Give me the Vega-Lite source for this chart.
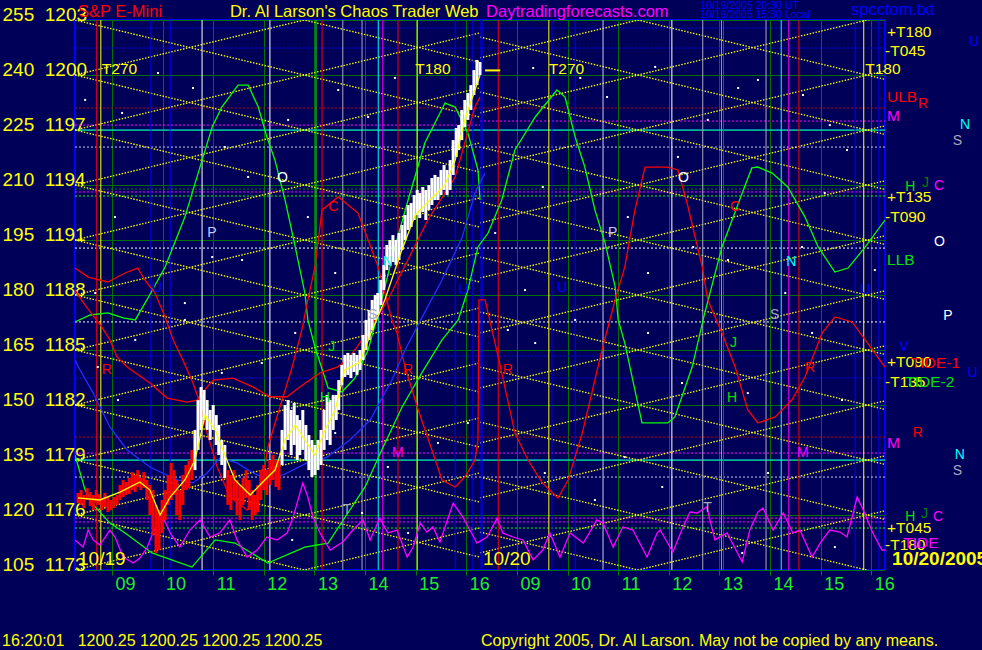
{
"$schema": "https://vega.github.io/schema/vega-lite/v6.json",
"width": 810, "height": 550,
"autosize": {"type": "none"},
"padding": {"left": 75, "top": 20, "right": 97, "bottom": 80},
"background": "#000058",
"config": {"view": {"stroke": "#0000ff", "strokeWidth": 2}, "font": "Liberation Sans"},
"datasets": {
"hl": [
{"p":1202.56,"h1":8.27,"h2":24.27,"k":"blue","d":"dot"},
{"p":1201.47,"h1":8.27,"h2":24.27,"k":"blue","d":"dot"},
{"p":1198.20,"h1":8.27,"h2":24.27,"k":"dkred","d":"dot"},
{"p":1197.27,"h1":8.27,"h2":16.27,"k":"magenta","d":"dot"},
{"p":1197.49,"h1":16.27,"h2":24.27,"k":"magenta","d":"dot"},
{"p":1196.07,"h1":8.27,"h2":24.27,"k":"lav","d":"dot"},
{"p":1193.78,"h1":8.27,"h2":24.27,"k":"dkgreen","d":"dot"},
{"p":1193.62,"h1":8.27,"h2":24.27,"k":"magenta","d":"dot"},
{"p":1193.40,"h1":8.27,"h2":24.27,"k":"bgreen","d":"dot"},
{"p":1190.56,"h1":8.27,"h2":24.27,"k":"white","d":"dot"},
{"p":1186.53,"h1":8.27,"h2":24.27,"k":"white","d":"dot"},
{"p":1184.67,"h1":8.27,"h2":24.27,"k":"blue","d":"dot"},
{"p":1183.47,"h1":8.27,"h2":24.27,"k":"blue","d":"dot"},
{"p":1180.25,"h1":8.27,"h2":24.27,"k":"dkred","d":"dot"},
{"p":1179.38,"h1":8.27,"h2":24.27,"k":"magenta","d":"dot"},
{"p":1178.07,"h1":8.27,"h2":24.27,"k":"lav","d":"dot"},
{"p":1175.83,"h1":8.27,"h2":24.27,"k":"magenta","d":"dot"},
{"p":1175.62,"h1":8.27,"h2":24.27,"k":"magenta","d":"dot"},
{"p":1175.29,"h1":8.27,"h2":24.27,"k":"bgreen","d":"dot"},
{"p":1197,"h1":8.27,"h2":24.27,"k":"cyan","d":"solid"},
{"p":1179,"h1":8.27,"h2":24.27,"k":"cyan","d":"solid"}
],
"vl": [
{"h":8.70,"k":"red"},{"h":8.78,"k":"yellow"},{"h":9.77,"k":"blue"},{"h":10.15,"k":"blue"},
{"h":10.78,"k":"white"},{"h":12.12,"k":"white"},{"h":13.03,"k":"bgreen"},{"h":13.15,"k":"red"},
{"h":13.56,"k":"gray"},{"h":13.94,"k":"gray"},{"h":14.26,"k":"cyan"},{"h":14.35,"k":"magenta"},
{"h":14.65,"k":"red"},{"h":15.03,"k":"yellow"},{"h":15.78,"k":"blue"},{"h":16.13,"k":"blue"},
{"h":16.29,"k":"blue"},{"h":16.31,"k":"blue"},
{"h":16.63,"k":"red"},{"h":17.63,"k":"yellow"},{"h":17.69,"k":"blue"},{"h":18.15,"k":"blue"},
{"h":18.70,"k":"lav"},{"h":20.06,"k":"white"},{"h":20.67,"k":"gray"},{"h":21.04,"k":"bgreen"},
{"h":21.08,"k":"red"},{"h":21.92,"k":"gray"},{"h":22.22,"k":"cyan"},{"h":22.37,"k":"magenta"},
{"h":22.57,"k":"red"},{"h":23.68,"k":"blue"},{"h":23.85,"k":"yellow"},{"h":24.15,"k":"blue"}
],
"lat": [
{"id":"a0","h":8.27,"p":1206},{"id":"a0","h":16.27,"p":1200.70},
{"id":"a1","h":8.27,"p":1203},{"id":"a1","h":16.27,"p":1197.70},
{"id":"a2","h":8.27,"p":1200},{"id":"a2","h":16.27,"p":1194.70},
{"id":"a3","h":8.27,"p":1197},{"id":"a3","h":16.27,"p":1191.70},
{"id":"a4","h":8.27,"p":1194},{"id":"a4","h":16.27,"p":1188.70},
{"id":"a5","h":8.27,"p":1191},{"id":"a5","h":16.27,"p":1185.70},
{"id":"a6","h":8.27,"p":1188},{"id":"a6","h":16.27,"p":1182.70},
{"id":"a7","h":8.27,"p":1185},{"id":"a7","h":16.27,"p":1179.70},
{"id":"a8","h":8.27,"p":1182},{"id":"a8","h":16.27,"p":1176.70},
{"id":"a9","h":8.27,"p":1179},{"id":"a9","h":16.27,"p":1173.70},
{"id":"a10","h":8.27,"p":1176},{"id":"a10","h":16.27,"p":1170.70},
{"id":"b1","h":8.27,"p":1200},{"id":"b1","h":16.27,"p":1205.30},
{"id":"b2","h":8.27,"p":1197},{"id":"b2","h":16.27,"p":1202.30},
{"id":"b3","h":8.27,"p":1194},{"id":"b3","h":16.27,"p":1199.30},
{"id":"b4","h":8.27,"p":1191},{"id":"b4","h":16.27,"p":1196.30},
{"id":"b5","h":8.27,"p":1188},{"id":"b5","h":16.27,"p":1193.30},
{"id":"b6","h":8.27,"p":1185},{"id":"b6","h":16.27,"p":1190.30},
{"id":"b7","h":8.27,"p":1182},{"id":"b7","h":16.27,"p":1187.30},
{"id":"b8","h":8.27,"p":1179},{"id":"b8","h":16.27,"p":1184.30},
{"id":"b9","h":8.27,"p":1176},{"id":"b9","h":16.27,"p":1181.30},
{"id":"b10","h":8.27,"p":1173},{"id":"b10","h":16.27,"p":1178.30},
{"id":"b11","h":8.27,"p":1170},{"id":"b11","h":16.27,"p":1175.30},
{"id":"c0","h":16.27,"p":1205.07},{"id":"c0","h":24.27,"p":1199.76},
{"id":"c1","h":16.27,"p":1202.07},{"id":"c1","h":24.27,"p":1196.76},
{"id":"c2","h":16.27,"p":1199.07},{"id":"c2","h":24.27,"p":1193.76},
{"id":"c3","h":16.27,"p":1196.07},{"id":"c3","h":24.27,"p":1190.76},
{"id":"c4","h":16.27,"p":1193.07},{"id":"c4","h":24.27,"p":1187.76},
{"id":"c5","h":16.27,"p":1190.07},{"id":"c5","h":24.27,"p":1184.76},
{"id":"c6","h":16.27,"p":1187.07},{"id":"c6","h":24.27,"p":1181.76},
{"id":"c7","h":16.27,"p":1184.07},{"id":"c7","h":24.27,"p":1178.76},
{"id":"c8","h":16.27,"p":1181.07},{"id":"c8","h":24.27,"p":1175.76},
{"id":"c9","h":16.27,"p":1178.07},{"id":"c9","h":24.27,"p":1172.76},
{"id":"c10","h":16.27,"p":1175.07},{"id":"c10","h":24.27,"p":1169.76},
{"id":"d0","h":16.27,"p":1200.93},{"id":"d0","h":24.27,"p":1206.23},
{"id":"d1","h":16.27,"p":1197.93},{"id":"d1","h":24.27,"p":1203.23},
{"id":"d2","h":16.27,"p":1194.93},{"id":"d2","h":24.27,"p":1200.23},
{"id":"d3","h":16.27,"p":1191.93},{"id":"d3","h":24.27,"p":1197.23},
{"id":"d4","h":16.27,"p":1188.93},{"id":"d4","h":24.27,"p":1194.23},
{"id":"d5","h":16.27,"p":1185.93},{"id":"d5","h":24.27,"p":1191.23},
{"id":"d6","h":16.27,"p":1182.93},{"id":"d6","h":24.27,"p":1188.23},
{"id":"d7","h":16.27,"p":1179.93},{"id":"d7","h":24.27,"p":1185.23},
{"id":"d8","h":16.27,"p":1176.93},{"id":"d8","h":24.27,"p":1182.23},
{"id":"d9","h":16.27,"p":1173.93},{"id":"d9","h":24.27,"p":1179.23},
{"id":"d10","h":16.27,"p":1170.93},{"id":"d10","h":24.27,"p":1176.23}
],
"dots": [
{"h":17.32,"p":1200.38},{"h":18.25,"p":1199.84},{"h":18.78,"p":1198.80},{"h":19.73,"p":1200.44},{"h":20.18,"p":1195.53},
{"h":20.77,"p":1197.55},{"h":21.37,"p":1199.29},{"h":21.76,"p":1199.73},{"h":22.65,"p":1198.91},{"h":23.18,"p":1197.27},
{"h":23.52,"p":1195.91},{"h":22.63,"p":1190.62},{"h":20.48,"p":1190.62},{"h":19.59,"p":1189.20},{"h":22.30,"p":1188.11},
{"h":17.16,"p":1188.27},{"h":16.57,"p":1191.38},{"h":17.51,"p":1193.89},{"h":19.19,"p":1192.25},{"h":21.17,"p":1189.91},
{"h":23.08,"p":1193.56},{"h":24.07,"p":1189.36},{"h":8.47,"p":1198.64},{"h":9.20,"p":1197.93},{"h":9.91,"p":1200.11},
{"h":10.60,"p":1199.29},{"h":11.23,"p":1196.07},{"h":11.69,"p":1194.44},{"h":12.48,"p":1197.55},{"h":12.87,"p":1192.25},
{"h":13.47,"p":1199.18},{"h":14.06,"p":1197.71},{"h":14.59,"p":1199.84},{"h":10.98,"p":1190.07},{"h":9.06,"p":1192.25},
{"h":8.67,"p":1188.11},{"h":10.44,"p":1187.56},{"h":13.41,"p":1189.20},{"h":11.57,"p":1189.91},{"h":8.72,"p":1184.07},
{"h":9.46,"p":1185.55},{"h":10.44,"p":1186.64},{"h":11.17,"p":1183.75},{"h":11.96,"p":1184.29},{"h":12.62,"p":1185.93},
{"h":13.41,"p":1180.47},{"h":13.94,"p":1176.11},{"h":14.45,"p":1178.62},{"h":15.44,"p":1179.93},{"h":16.03,"p":1181.02},
{"h":14.85,"p":1175.02},{"h":12.56,"p":1174.64},{"h":9.12,"p":1182.27},{"h":16.82,"p":1186.09},{"h":17.36,"p":1185.38},
{"h":18.15,"p":1186.64},{"h":19.59,"p":1185.93},{"h":20.26,"p":1183.20},{"h":21.56,"p":1182.65},{"h":22.83,"p":1185.93},
{"h":23.42,"p":1182.27},{"h":21.96,"p":1178.29},{"h":19.87,"p":1177.53},{"h":18.54,"p":1176.82},{"h":17.55,"p":1178.29},
{"h":23.28,"p":1174.25},{"h":21.45,"p":1173.93},{"h":19.13,"p":1179.16}
],
"cv": [
{"s":"g1","h":8.27,"p":1186.53},{"s":"g1","h":8.57,"p":1186.91},{"s":"g1","h":8.92,"p":1187.02},{"s":"g1","h":9.22,"p":1186.75},{"s":"g1","h":9.46,"p":1186.64},{"s":"g1","h":9.69,"p":1187.73},{"s":"g1","h":10.05,"p":1189.53},{"s":"g1","h":10.44,"p":1192.25},{"s":"g1","h":10.78,"p":1195.36},{"s":"g1","h":10.98,"p":1197.16},{"s":"g1","h":11.17,"p":1198.25},{"s":"g1","h":11.49,"p":1199.45},{"s":"g1","h":11.69,"p":1199.45},{"s":"g1","h":11.89,"p":1198.25},{"s":"g1","h":12.06,"p":1196.62},{"s":"g1","h":12.22,"p":1195.36},{"s":"g1","h":12.42,"p":1193.18},{"s":"g1","h":12.62,"p":1190.62},{"s":"g1","h":12.81,"p":1188.11},{"s":"g1","h":12.87,"p":1186.64},{"s":"g1","h":13.01,"p":1185.16},{"s":"g1","h":13.27,"p":1182.93},{"s":"g1","h":13.54,"p":1182.71},{"s":"g1","h":13.80,"p":1183.47},{"s":"g1","h":14.06,"p":1185.00},{"s":"g1","h":14.26,"p":1187.02},{"s":"g1","h":14.59,"p":1190.62},{"s":"g1","h":14.85,"p":1193.18},{"s":"g1","h":15.18,"p":1196.29},{"s":"g1","h":15.58,"p":1198.47},{"s":"g1","h":15.78,"p":1198.25},{"s":"g1","h":16.03,"p":1196.84},{"s":"g1","h":16.23,"p":1194.82},{"s":"g1","h":16.27,"p":1193.18},
{"s":"g2","h":8.27,"p":1179.27},{"s":"g2","h":8.47,"p":1177.36},{"s":"g2","h":8.67,"p":1176.44},{"s":"g2","h":8.96,"p":1175.56},{"s":"g2","h":9.26,"p":1175.02},{"s":"g2","h":9.79,"p":1173.93},{"s":"g2","h":10.58,"p":1173.16},{"s":"g2","h":11.04,"p":1174.64},{"s":"g2","h":11.43,"p":1174.47},{"s":"g2","h":12.08,"p":1173.38},{"s":"g2","h":12.81,"p":1174.25},{"s":"g2","h":13.27,"p":1174.47},{"s":"g2","h":13.66,"p":1176.11},{"s":"g2","h":14.00,"p":1177.53},{"s":"g2","h":14.33,"p":1179.55},{"s":"g2","h":14.73,"p":1181.89},{"s":"g2","h":15.12,"p":1183.75},{"s":"g2","h":15.52,"p":1185.55},{"s":"g2","h":15.84,"p":1186.64},{"s":"g2","h":16.03,"p":1188.27},{"s":"g2","h":16.23,"p":1190.62},{"s":"g2","h":16.43,"p":1191.38},{"s":"g2","h":16.70,"p":1193.18},{"s":"g2","h":16.96,"p":1195.91},{"s":"g2","h":17.36,"p":1197.71},{"s":"g2","h":17.79,"p":1199.18},{"s":"g2","h":17.95,"p":1198.80},{"s":"g2","h":18.15,"p":1196.62},{"s":"g2","h":18.34,"p":1194.98},{"s":"g2","h":18.54,"p":1192.64},{"s":"g2","h":18.74,"p":1190.84},{"s":"g2","h":18.94,"p":1188.44},{"s":"g2","h":19.00,"p":1186.64},{"s":"g2","h":19.13,"p":1185.38},{"s":"g2","h":19.47,"p":1181.02},{"s":"g2","h":19.98,"p":1181.02},{"s":"g2","h":20.12,"p":1181.35},{"s":"g2","h":20.46,"p":1184.07},{"s":"g2","h":20.71,"p":1187.02},{"s":"g2","h":21.05,"p":1190.62},{"s":"g2","h":21.45,"p":1193.56},{"s":"g2","h":21.64,"p":1194.93},{"s":"g2","h":21.76,"p":1194.98},{"s":"g2","h":22.04,"p":1194.65},{"s":"g2","h":22.35,"p":1193.89},{"s":"g2","h":22.69,"p":1192.25},{"s":"g2","h":22.95,"p":1190.62},{"s":"g2","h":23.28,"p":1189.25},{"s":"g2","h":23.54,"p":1189.47},{"s":"g2","h":23.88,"p":1190.62},{"s":"g2","h":24.27,"p":1192.09},
{"s":"r1","h":8.27,"p":1189.47},{"s":"r1","h":8.53,"p":1188.98},{"s":"r1","h":8.92,"p":1188.71},{"s":"r1","h":9.26,"p":1189.20},{"s":"r1","h":9.51,"p":1189.47},{"s":"r1","h":9.65,"p":1188.82},{"s":"r1","h":9.85,"p":1188.11},{"s":"r1","h":10.05,"p":1186.80},{"s":"r1","h":10.21,"p":1185.55},{"s":"r1","h":10.40,"p":1184.45},{"s":"r1","h":10.60,"p":1183.20},{"s":"r1","h":10.74,"p":1182.11},{"s":"r1","h":10.88,"p":1180.47},{"s":"r1","h":11.08,"p":1178.62},{"s":"r1","h":11.33,"p":1176.98},{"s":"r1","h":11.67,"p":1176.27},{"s":"r1","h":11.96,"p":1177.53},{"s":"r1","h":12.08,"p":1179.71},{"s":"r1","h":12.36,"p":1182.27},{"s":"r1","h":12.56,"p":1184.07},{"s":"r1","h":12.75,"p":1186.09},{"s":"r1","h":12.87,"p":1187.73},{"s":"r1","h":13.01,"p":1189.53},{"s":"r1","h":13.15,"p":1192.64},{"s":"r1","h":13.47,"p":1193.35},{"s":"r1","h":13.86,"p":1192.47},{"s":"r1","h":14.06,"p":1191.00},{"s":"r1","h":14.26,"p":1189.53},{"s":"r1","h":14.39,"p":1188.11},{"s":"r1","h":14.53,"p":1186.64},{"s":"r1","h":14.63,"p":1185.93},{"s":"r1","h":14.79,"p":1184.07},{"s":"r1","h":15.05,"p":1181.73},{"s":"r1","h":15.32,"p":1179.55},{"s":"r1","h":15.52,"p":1177.91},{"s":"r1","h":15.78,"p":1177.53},{"s":"r1","h":15.97,"p":1178.07},{"s":"r1","h":16.17,"p":1179.00},{"s":"r1","h":16.23,"p":1180.09},{"s":"r1","h":16.25,"p":1187.73},{"s":"r1","h":16.37,"p":1187.73},{"s":"r1","h":16.63,"p":1184.62},{"s":"r1","h":16.96,"p":1180.47},{"s":"r1","h":17.22,"p":1179.00},{"s":"r1","h":17.50,"p":1177.75},{"s":"r1","h":17.81,"p":1176.93},{"s":"r1","h":18.01,"p":1177.91},{"s":"r1","h":18.29,"p":1180.47},{"s":"r1","h":18.68,"p":1185.00},{"s":"r1","h":18.94,"p":1187.73},{"s":"r1","h":19.13,"p":1189.53},{"s":"r1","h":19.33,"p":1192.64},{"s":"r1","h":19.53,"p":1194.98},{"s":"r1","h":19.98,"p":1194.98},{"s":"r1","h":20.18,"p":1194.82},{"s":"r1","h":20.38,"p":1192.80},{"s":"r1","h":20.66,"p":1189.53},{"s":"r1","h":20.77,"p":1187.73},{"s":"r1","h":21.05,"p":1185.93},{"s":"r1","h":21.31,"p":1184.07},{"s":"r1","h":21.56,"p":1181.73},{"s":"r1","h":21.76,"p":1181.02},{"s":"r1","h":22.10,"p":1181.35},{"s":"r1","h":22.43,"p":1182.27},{"s":"r1","h":22.69,"p":1183.53},{"s":"r1","h":23.03,"p":1185.93},{"s":"r1","h":23.28,"p":1186.80},{"s":"r1","h":23.62,"p":1186.53},{"s":"r1","h":23.88,"p":1185.55},{"s":"r1","h":24.27,"p":1184.07},
{"s":"r2","h":8.27,"p":1188.27},{"s":"r2","h":8.47,"p":1187.45},{"s":"r2","h":8.80,"p":1186.25},{"s":"r2","h":8.96,"p":1185.55},{"s":"r2","h":9.10,"p":1184.62},{"s":"r2","h":9.30,"p":1184.07},{"s":"r2","h":9.75,"p":1183.20},{"s":"r2","h":10.09,"p":1182.38},{"s":"r2","h":10.48,"p":1182.16},{"s":"r2","h":10.68,"p":1182.27},{"s":"r2","h":10.88,"p":1182.98},{"s":"r2","h":11.00,"p":1183.36},{"s":"r2","h":11.39,"p":1183.47},{"s":"r2","h":11.79,"p":1182.98},{"s":"r2","h":12.12,"p":1182.45},{"s":"r2","h":12.46,"p":1182.45},{"s":"r2","h":12.71,"p":1182.98},{"s":"r2","h":13.11,"p":1183.75},{"s":"r2","h":13.45,"p":1184.07},{"s":"r2","h":13.64,"p":1184.45},{"s":"r2","h":13.84,"p":1185.16},{"s":"r2","h":14.14,"p":1186.36},{"s":"r2","h":14.45,"p":1187.73},{"s":"r2","h":15.24,"p":1192.09},{"s":"r2","h":15.78,"p":1194.44},{"s":"r2","h":16.17,"p":1198.25},{"s":"r2","h":16.27,"p":1198.80},
{"s":"b","h":8.27,"p":1184.45},{"s":"b","h":8.37,"p":1183.91},{"s":"b","h":8.63,"p":1182.65},{"s":"b","h":8.96,"p":1180.80},{"s":"b","h":9.30,"p":1179.55},{"s":"b","h":9.75,"p":1178.62},{"s":"b","h":10.29,"p":1177.91},{"s":"b","h":10.60,"p":1177.75},{"s":"b","h":10.88,"p":1178.29},{"s":"b","h":11.13,"p":1179.11},{"s":"b","h":11.47,"p":1178.84},{"s":"b","h":11.79,"p":1178.29},{"s":"b","h":12.12,"p":1177.91},{"s":"b","h":12.46,"p":1178.29},{"s":"b","h":12.85,"p":1178.84},{"s":"b","h":13.25,"p":1179.16},{"s":"b","h":13.70,"p":1180.09},{"s":"b","h":14.10,"p":1181.18},{"s":"b","h":14.53,"p":1183.36},{"s":"b","h":14.79,"p":1185.00},{"s":"b","h":15.12,"p":1186.75},{"s":"b","h":15.52,"p":1188.82},{"s":"b","h":15.92,"p":1191.16},{"s":"b","h":16.17,"p":1193.56},{"s":"b","h":16.37,"p":1194.65},
{"s":"m","h":8.27,"p":1174.64},{"s":"m","h":8.43,"p":1174.25},{"s":"m","h":8.53,"p":1175.18},{"s":"m","h":8.63,"p":1174.64},{"s":"m","h":8.76,"p":1174.36},{"s":"m","h":8.96,"p":1175.18},{"s":"m","h":9.06,"p":1174.80},{"s":"m","h":9.22,"p":1173.71},{"s":"m","h":9.42,"p":1173.38},{"s":"m","h":9.55,"p":1173.65},{"s":"m","h":9.69,"p":1174.20},{"s":"m","h":9.89,"p":1175.56},{"s":"m","h":10.01,"p":1175.89},{"s":"m","h":10.15,"p":1175.02},{"s":"m","h":10.34,"p":1174.25},{"s":"m","h":10.54,"p":1175.18},{"s":"m","h":10.74,"p":1175.73},{"s":"m","h":10.94,"p":1174.80},{"s":"m","h":11.13,"p":1175.02},{"s":"m","h":11.33,"p":1175.73},{"s":"m","h":11.47,"p":1174.64},{"s":"m","h":11.67,"p":1173.71},{"s":"m","h":11.87,"p":1174.09},{"s":"m","h":12.06,"p":1174.80},{"s":"m","h":12.26,"p":1174.64},{"s":"m","h":12.46,"p":1175.02},{"s":"m","h":12.58,"p":1175.89},{"s":"m","h":12.77,"p":1177.75},{"s":"m","h":12.87,"p":1176.98},{"s":"m","h":12.97,"p":1175.89},{"s":"m","h":13.11,"p":1175.02},{"s":"m","h":13.31,"p":1174.09},{"s":"m","h":13.56,"p":1174.53},{"s":"m","h":13.76,"p":1175.18},{"s":"m","h":13.96,"p":1175.73},{"s":"m","h":14.10,"p":1174.64},{"s":"m","h":14.29,"p":1175.83},{"s":"m","h":14.45,"p":1175.02},{"s":"m","h":14.63,"p":1175.18},{"s":"m","h":14.83,"p":1173.71},{"s":"m","h":14.95,"p":1174.25},{"s":"m","h":15.09,"p":1175.56},{"s":"m","h":15.22,"p":1175.07},{"s":"m","h":15.34,"p":1175.35},{"s":"m","h":15.48,"p":1174.53},{"s":"m","h":15.74,"p":1176.65},{"s":"m","h":15.93,"p":1175.89},{"s":"m","h":16.07,"p":1175.18},{"s":"m","h":16.21,"p":1174.47},{"s":"m","h":16.41,"p":1174.80},{"s":"m","h":16.61,"p":1175.83},{"s":"m","h":16.72,"p":1175.02},{"s":"m","h":16.92,"p":1174.80},{"s":"m","h":17.12,"p":1174.64},{"s":"m","h":17.32,"p":1173.55},{"s":"m","h":17.51,"p":1174.09},{"s":"m","h":17.65,"p":1175.02},{"s":"m","h":17.85,"p":1173.71},{"s":"m","h":18.05,"p":1175.02},{"s":"m","h":18.31,"p":1174.47},{"s":"m","h":18.58,"p":1175.73},{"s":"m","h":18.70,"p":1175.56},{"s":"m","h":18.90,"p":1174.25},{"s":"m","h":19.09,"p":1175.35},{"s":"m","h":19.29,"p":1175.18},{"s":"m","h":19.57,"p":1173.71},{"s":"m","h":19.77,"p":1175.02},{"s":"m","h":19.83,"p":1175.18},{"s":"m","h":20.08,"p":1173.98},{"s":"m","h":20.28,"p":1175.35},{"s":"m","h":20.42,"p":1176.16},{"s":"m","h":20.56,"p":1176.11},{"s":"m","h":20.75,"p":1176.44},{"s":"m","h":20.91,"p":1174.64},{"s":"m","h":21.15,"p":1175.02},{"s":"m","h":21.45,"p":1173.44},{"s":"m","h":21.60,"p":1175.18},{"s":"m","h":21.76,"p":1176.16},{"s":"m","h":21.86,"p":1176.38},{"s":"m","h":22.06,"p":1175.18},{"s":"m","h":22.26,"p":1176.11},{"s":"m","h":22.45,"p":1175.02},{"s":"m","h":22.59,"p":1175.18},{"s":"m","h":22.83,"p":1173.71},{"s":"m","h":22.99,"p":1174.47},{"s":"m","h":23.18,"p":1175.18},{"s":"m","h":23.38,"p":1175.07},{"s":"m","h":23.52,"p":1174.80},{"s":"m","h":23.72,"p":1176.98},{"s":"m","h":23.84,"p":1176.27},{"s":"m","h":24.03,"p":1175.02},{"s":"m","h":24.21,"p":1174.09},{"s":"m","h":24.27,"p":1174.09},
{"s":"ma","h":8.33,"p":1176.93},{"s":"ma","h":8.76,"p":1176.82},{"s":"ma","h":9.16,"p":1177.25},{"s":"ma","h":9.55,"p":1177.80},{"s":"ma","h":9.75,"p":1177.36},{"s":"ma","h":9.95,"p":1176.00},{"s":"ma","h":10.15,"p":1176.98},{"s":"ma","h":10.44,"p":1177.91},{"s":"ma","h":10.64,"p":1179.00},{"s":"ma","h":10.84,"p":1181.45},{"s":"ma","h":11.04,"p":1180.64},{"s":"ma","h":11.23,"p":1179.27},{"s":"ma","h":11.43,"p":1177.91},{"s":"ma","h":11.73,"p":1177.09},{"s":"ma","h":12.02,"p":1177.91},{"s":"ma","h":12.22,"p":1178.45},{"s":"ma","h":12.42,"p":1180.09},{"s":"ma","h":12.62,"p":1180.91},{"s":"ma","h":12.81,"p":1180.09},{"s":"ma","h":13.01,"p":1179.27},{"s":"ma","h":13.21,"p":1180.64},{"s":"ma","h":13.41,"p":1181.73},{"s":"ma","h":13.60,"p":1183.91},{"s":"ma","h":13.90,"p":1184.34},{"s":"ma","h":14.10,"p":1185.82},{"s":"ma","h":14.39,"p":1187.73},{"s":"ma","h":14.69,"p":1190.18},{"s":"ma","h":14.99,"p":1192.36},{"s":"ma","h":15.28,"p":1193.18},{"s":"ma","h":15.58,"p":1194.00},{"s":"ma","h":15.78,"p":1195.36},{"s":"ma","h":15.97,"p":1197.55},{"s":"ma","h":16.27,"p":1200.00}
],
"bars": [
{"h":8.33,"lo":1176.65,"hi":1177.20,"k":"R"},{"h":8.39,"lo":1176.55,"hi":1177.36,"k":"R"},{"h":8.45,"lo":1176.38,"hi":1177.09,"k":"R"},{"h":8.51,"lo":1176.82,"hi":1177.47,"k":"R"},{"h":8.57,"lo":1176.49,"hi":1177.25,"k":"R"},{"h":8.63,"lo":1176.27,"hi":1177.09,"k":"R"},{"h":8.69,"lo":1176.65,"hi":1177.36,"k":"R"},{"h":8.74,"lo":1176.55,"hi":1177.14,"k":"R"},{"h":8.80,"lo":1176.27,"hi":1176.93,"k":"R"},{"h":8.86,"lo":1176.44,"hi":1177.20,"k":"R"},
{"h":8.92,"lo":1176.16,"hi":1176.98,"k":"R"},{"h":8.98,"lo":1176.27,"hi":1176.82,"k":"R"},{"h":9.04,"lo":1176.38,"hi":1176.98,"k":"R"},{"h":9.10,"lo":1176.55,"hi":1177.09,"k":"R"},{"h":9.16,"lo":1176.82,"hi":1177.64,"k":"R"},{"h":9.22,"lo":1176.98,"hi":1177.91,"k":"R"},{"h":9.28,"lo":1177.09,"hi":1177.80,"k":"R"},{"h":9.34,"lo":1177.14,"hi":1178.02,"k":"R"},{"h":9.40,"lo":1177.36,"hi":1178.34,"k":"R"},{"h":9.46,"lo":1177.25,"hi":1178.18,"k":"R"},
{"h":9.51,"lo":1177.53,"hi":1178.45,"k":"R"},{"h":9.57,"lo":1177.36,"hi":1178.02,"k":"R"},{"h":9.63,"lo":1177.47,"hi":1178.34,"k":"R"},{"h":9.69,"lo":1176.82,"hi":1177.91,"k":"R"},{"h":9.75,"lo":1176.00,"hi":1177.64,"k":"R"},{"h":9.81,"lo":1174.91,"hi":1177.36,"k":"R"},{"h":9.87,"lo":1173.93,"hi":1176.55,"k":"R"},{"h":9.93,"lo":1174.09,"hi":1176.27,"k":"R"},{"h":9.99,"lo":1175.02,"hi":1176.82,"k":"R"},{"h":10.05,"lo":1175.73,"hi":1177.36,"k":"R"},
{"h":10.11,"lo":1176.55,"hi":1178.18,"k":"R"},{"h":10.17,"lo":1176.82,"hi":1178.84,"k":"R"},{"h":10.23,"lo":1177.09,"hi":1178.45,"k":"R"},{"h":10.28,"lo":1176.00,"hi":1177.91,"k":"R"},{"h":10.34,"lo":1175.73,"hi":1177.36,"k":"R"},{"h":10.40,"lo":1176.55,"hi":1178.18,"k":"R"},{"h":10.46,"lo":1177.36,"hi":1178.73,"k":"R"},{"h":10.52,"lo":1177.47,"hi":1179.00,"k":"R"},{"h":10.58,"lo":1177.91,"hi":1179.55,"k":"R"},{"h":10.64,"lo":1178.45,"hi":1180.64,"k":"W"},
{"h":10.70,"lo":1179.55,"hi":1182.27,"k":"W"},{"h":10.76,"lo":1180.64,"hi":1182.98,"k":"W"},{"h":10.82,"lo":1181.18,"hi":1182.82,"k":"W"},{"h":10.88,"lo":1180.64,"hi":1182.27,"k":"W"},{"h":10.94,"lo":1180.09,"hi":1181.73,"k":"W"},{"h":11.00,"lo":1180.64,"hi":1182.00,"k":"W"},{"h":11.06,"lo":1179.82,"hi":1181.45,"k":"W"},{"h":11.11,"lo":1179.27,"hi":1180.91,"k":"W"},{"h":11.17,"lo":1178.73,"hi":1180.09,"k":"W"},{"h":11.23,"lo":1178.02,"hi":1179.82,"k":"W"},
{"h":11.29,"lo":1176.55,"hi":1178.45,"k":"R"},{"h":11.35,"lo":1176.27,"hi":1178.18,"k":"R"},{"h":11.41,"lo":1176.82,"hi":1178.45,"k":"R"},{"h":11.47,"lo":1176.00,"hi":1177.91,"k":"R"},{"h":11.53,"lo":1175.73,"hi":1177.64,"k":"R"},{"h":11.59,"lo":1176.55,"hi":1178.02,"k":"R"},{"h":11.65,"lo":1176.93,"hi":1178.45,"k":"R"},{"h":11.71,"lo":1176.27,"hi":1177.91,"k":"R"},{"h":11.77,"lo":1175.73,"hi":1177.36,"k":"R"},{"h":11.83,"lo":1176.00,"hi":1177.09,"k":"R"},
{"h":11.88,"lo":1176.16,"hi":1177.64,"k":"R"},{"h":11.94,"lo":1176.82,"hi":1178.45,"k":"R"},{"h":12.00,"lo":1177.36,"hi":1178.73,"k":"R"},{"h":12.06,"lo":1177.09,"hi":1178.45,"k":"R"},{"h":12.12,"lo":1177.64,"hi":1179.00,"k":"R"},{"h":12.18,"lo":1177.91,"hi":1179.27,"k":"R"},{"h":12.24,"lo":1177.53,"hi":1179.00,"k":"R"},{"h":12.30,"lo":1177.36,"hi":1179.00,"k":"R"},{"h":12.36,"lo":1178.73,"hi":1180.64,"k":"W"},{"h":12.42,"lo":1179.55,"hi":1182.00,"k":"W"},
{"h":12.48,"lo":1180.09,"hi":1182.27,"k":"W"},{"h":12.54,"lo":1179.27,"hi":1181.73,"k":"W"},{"h":12.60,"lo":1179.82,"hi":1182.11,"k":"W"},{"h":12.66,"lo":1179.00,"hi":1181.45,"k":"W"},{"h":12.71,"lo":1179.27,"hi":1181.18,"k":"W"},{"h":12.77,"lo":1179.55,"hi":1181.73,"k":"W"},{"h":12.83,"lo":1179.00,"hi":1180.91,"k":"W"},{"h":12.89,"lo":1178.45,"hi":1180.36,"k":"W"},{"h":12.95,"lo":1178.07,"hi":1180.09,"k":"W"},{"h":13.01,"lo":1178.18,"hi":1179.82,"k":"W"},
{"h":13.07,"lo":1178.45,"hi":1180.09,"k":"W"},{"h":13.13,"lo":1178.73,"hi":1180.64,"k":"W"},{"h":13.19,"lo":1179.55,"hi":1181.73,"k":"W"},{"h":13.25,"lo":1180.09,"hi":1182.55,"k":"W"},{"h":13.31,"lo":1179.82,"hi":1182.27,"k":"W"},{"h":13.37,"lo":1180.64,"hi":1182.55,"k":"W"},{"h":13.43,"lo":1181.18,"hi":1182.55,"k":"W"},{"h":13.48,"lo":1181.73,"hi":1183.36,"k":"W"},{"h":13.54,"lo":1183.09,"hi":1184.18,"k":"W"},{"h":13.60,"lo":1183.53,"hi":1184.73,"k":"W"},
{"h":13.66,"lo":1183.64,"hi":1184.84,"k":"W"},{"h":13.72,"lo":1183.47,"hi":1184.73,"k":"W"},{"h":13.78,"lo":1183.80,"hi":1184.84,"k":"W"},{"h":13.84,"lo":1183.64,"hi":1184.73,"k":"W"},{"h":13.90,"lo":1183.91,"hi":1185.00,"k":"W"},{"h":13.96,"lo":1184.45,"hi":1185.82,"k":"W"},{"h":14.02,"lo":1185.00,"hi":1186.64,"k":"W"},{"h":14.08,"lo":1185.55,"hi":1187.18,"k":"W"},{"h":14.14,"lo":1186.09,"hi":1187.73,"k":"W"},{"h":14.20,"lo":1186.64,"hi":1188.00,"k":"W"},
{"h":14.25,"lo":1186.91,"hi":1188.11,"k":"W"},{"h":14.31,"lo":1187.45,"hi":1188.82,"k":"W"},{"h":14.37,"lo":1188.27,"hi":1189.64,"k":"W"},{"h":14.43,"lo":1189.36,"hi":1190.73,"k":"W"},{"h":14.49,"lo":1189.64,"hi":1191.00,"k":"W"},{"h":14.55,"lo":1189.80,"hi":1191.27,"k":"W"},{"h":14.61,"lo":1189.64,"hi":1191.00,"k":"W"},{"h":14.67,"lo":1189.91,"hi":1191.38,"k":"W"},{"h":14.73,"lo":1190.45,"hi":1191.82,"k":"W"},{"h":14.79,"lo":1191.00,"hi":1192.36,"k":"W"},
{"h":14.85,"lo":1191.55,"hi":1192.91,"k":"W"},{"h":14.91,"lo":1191.71,"hi":1193.02,"k":"W"},{"h":14.97,"lo":1192.09,"hi":1193.45,"k":"W"},{"h":15.03,"lo":1192.36,"hi":1193.73,"k":"W"},{"h":15.08,"lo":1192.20,"hi":1193.56,"k":"W"},{"h":15.14,"lo":1192.53,"hi":1193.89,"k":"W"},{"h":15.20,"lo":1192.09,"hi":1193.73,"k":"W"},{"h":15.26,"lo":1192.64,"hi":1194.00,"k":"W"},{"h":15.32,"lo":1192.91,"hi":1194.38,"k":"W"},{"h":15.38,"lo":1193.18,"hi":1194.55,"k":"W"},
{"h":15.44,"lo":1193.18,"hi":1194.44,"k":"W"},{"h":15.50,"lo":1193.45,"hi":1194.82,"k":"W"},{"h":15.56,"lo":1193.73,"hi":1195.09,"k":"W"},{"h":15.62,"lo":1193.45,"hi":1194.82,"k":"W"},{"h":15.68,"lo":1193.73,"hi":1195.36,"k":"W"},{"h":15.74,"lo":1194.55,"hi":1196.45,"k":"W"},{"h":15.80,"lo":1195.53,"hi":1197.11,"k":"W"},{"h":15.85,"lo":1195.91,"hi":1197.27,"k":"W"},{"h":15.91,"lo":1196.45,"hi":1198.09,"k":"W"},{"h":15.97,"lo":1197.16,"hi":1198.64,"k":"W"},
{"h":16.03,"lo":1197.55,"hi":1199.02,"k":"W"},{"h":16.09,"lo":1198.09,"hi":1199.45,"k":"W"},{"h":16.15,"lo":1198.91,"hi":1200.27,"k":"W"},{"h":16.21,"lo":1199.45,"hi":1200.82,"k":"W"},{"h":16.27,"lo":1200.00,"hi":1200.71,"k":"W"}
],
"last": [{"h":16.37,"h2":16.67,"p":1200.25}],
"tx": [
{"g":"title","t":"S&P E-Mini","h":8.33,"p":1203.44,"k":"red"},
{"g":"title","t":"Dr. Al Larson's Chaos Trader Web","h":11.33,"p":1203.44,"k":"yellow"},
{"g":"title","t":"Daytradingforecasts.com","h":16.39,"p":1203.44,"k":"magenta"},
{"g":"title","t":"spcctom.txt","h":23.60,"p":1203.55,"k":"blue"},
{"g":"small","t":"10/19/2005 20:30 UT","h":20.62,"p":1203.76,"k":"blue"},
{"g":"small","t":"10/19/2005 15:30 Local","h":20.62,"p":1203.27,"k":"blue"},
{"g":"foot","t":"16:20:01\u00a0\u00a0\u00a01200.25\u00a01200.25\u00a01200.25\u00a01200.25","h":6.83,"p":1169.13,"k":"yellow"},
{"g":"foot","t":"Copyright 2005, Dr. Al Larson. May not be copied by any means.","h":16.29,"p":1169.13,"k":"yellow"},
{"g":"date","t":"10/19","h":8.33,"p":1173.60,"k":"yellow"},
{"g":"date","t":"10/20","h":16.33,"p":1173.60,"k":"yellow"},
{"g":"bold","t":"10/20/2005","h":24.41,"p":1173.60,"k":"yellow"},
{"g":"tl","t":"T270","h":8.80,"p":1200.33,"k":"yellow"},
{"g":"tl","t":"T180","h":14.99,"p":1200.33,"k":"yellow"},
{"g":"tl","t":"T270","h":17.63,"p":1200.33,"k":"yellow"},
{"g":"tl","t":"T180","h":23.88,"p":1200.33,"k":"yellow"},
{"g":"rlab","t":"+T180","h":24.31,"p":1202.35,"k":"yellow"},
{"g":"rlab","t":"-T045","h":24.27,"p":1201.31,"k":"yellow"},
{"g":"rlab","t":"ULB","h":24.31,"p":1198.80,"k":"red"},
{"g":"rlab","t":"M","h":24.31,"p":1197.76,"k":"magenta"},
{"g":"rlab","t":"+T135","h":24.31,"p":1193.35,"k":"yellow"},
{"g":"rlab","t":"-T090","h":24.27,"p":1192.25,"k":"yellow"},
{"g":"rlab","t":"LLB","h":24.31,"p":1189.91,"k":"green"},
{"g":"rlab","t":"+T090","h":24.31,"p":1184.34,"k":"yellow"},
{"g":"rlab","t":"TIDE-1","h":24.78,"p":1184.29,"k":"red"},
{"g":"rlab","t":"-T135","h":24.27,"p":1183.25,"k":"yellow"},
{"g":"rlab","t":"TIDE-2","h":24.67,"p":1183.25,"k":"green"},
{"g":"rlab","t":"M","h":24.31,"p":1179.93,"k":"magenta"},
{"g":"rlab","t":"+T045","h":24.31,"p":1175.29,"k":"yellow"},
{"g":"rlab","t":"-T180","h":24.27,"p":1174.36,"k":"yellow"},
{"g":"rlab","t":"TIDE","h":24.63,"p":1174.47,"k":"magenta"},
{"g":"let","t":"U","h":25.93,"p":1201.80,"k":"blue"},
{"g":"let","t":"R","h":24.92,"p":1198.42,"k":"red"},
{"g":"let","t":"N","h":25.75,"p":1197.27,"k":"cyan"},
{"g":"let","t":"S","h":25.61,"p":1196.40,"k":"gray"},
{"g":"let","t":"H","h":24.67,"p":1193.89,"k":"green"},
{"g":"let","t":"J","h":25.00,"p":1194.11,"k":"dkgreen"},
{"g":"let","t":"C","h":25.24,"p":1193.95,"k":"magenta"},
{"g":"let","t":"O","h":25.24,"p":1190.89,"k":"white"},
{"g":"let","t":"P","h":25.42,"p":1186.85,"k":"white"},
{"g":"let","t":"V","h":24.55,"p":1185.16,"k":"blue"},
{"g":"let","t":"U","h":25.90,"p":1183.75,"k":"blue"},
{"g":"let","t":"R","h":24.82,"p":1180.47,"k":"red"},
{"g":"let","t":"N","h":25.65,"p":1179.27,"k":"cyan"},
{"g":"let","t":"S","h":25.61,"p":1178.40,"k":"gray"},
{"g":"let","t":"H","h":24.67,"p":1175.89,"k":"green"},
{"g":"let","t":"J","h":24.98,"p":1176.05,"k":"dkgreen"},
{"g":"let","t":"C","h":25.22,"p":1175.89,"k":"magenta"},
{"g":"let","t":"P","h":10.88,"p":1191.38,"k":"lav"},
{"g":"let","t":"O","h":12.26,"p":1194.38,"k":"white"},
{"g":"let","t":"C","h":13.27,"p":1192.80,"k":"red"},
{"g":"let","t":"N","h":14.35,"p":1189.80,"k":"cyan"},
{"g":"let","t":"U","h":9.79,"p":1188.38,"k":"blue"},
{"g":"let","t":"U","h":15.84,"p":1188.27,"k":"blue"},
{"g":"let","t":"R","h":8.80,"p":1183.91,"k":"red"},
{"g":"let","t":"R","h":14.75,"p":1183.91,"k":"red"},
{"g":"let","t":"J","h":13.27,"p":1185.16,"k":"green"},
{"g":"let","t":"H","h":13.11,"p":1182.38,"k":"green"},
{"g":"let","t":"M","h":14.53,"p":1179.38,"k":"magenta"},
{"g":"let","t":"S","h":14.06,"p":1186.91,"k":"gray"},
{"g":"let","t":"T","h":13.56,"p":1176.27,"k":"gray"},
{"g":"let","t":"P","h":18.80,"p":1191.38,"k":"lav"},
{"g":"let","t":"O","h":20.18,"p":1194.38,"k":"white"},
{"g":"let","t":"C","h":21.21,"p":1192.80,"k":"red"},
{"g":"let","t":"N","h":22.32,"p":1189.80,"k":"cyan"},
{"g":"let","t":"U","h":17.79,"p":1188.38,"k":"blue"},
{"g":"let","t":"U","h":23.78,"p":1188.27,"k":"blue"},
{"g":"let","t":"R","h":16.72,"p":1183.91,"k":"red"},
{"g":"let","t":"R","h":22.69,"p":1184.02,"k":"red"},
{"g":"let","t":"J","h":21.21,"p":1185.38,"k":"green"},
{"g":"let","t":"H","h":21.15,"p":1182.38,"k":"green"},
{"g":"let","t":"M","h":22.53,"p":1179.38,"k":"magenta"},
{"g":"let","t":"S","h":22.00,"p":1186.91,"k":"gray"},
{"g":"let","t":"T","h":20.68,"p":1176.38,"k":"gray"}
]
},
"layer": [
{"data": {"name": "dots"},
 "mark": {"type": "point", "opacity": 0},
 "encoding": {
  "x": {"field": "h", "type": "quantitative", "scale": {"domain": [8.27, 24.27], "nice": false, "zero": false},
   "axis": {"title": null, "values": [9,10,11,12,13,14,15,16,17,18,19,20,21,22,23,24], "labelExpr": "datum.value > 16 ? (datum.value < 18 ? '0' + (datum.value - 8) : '' + (datum.value - 8)) : (datum.value < 10 ? '0' + datum.value : '' + datum.value)", "labelAlign": "left", "labelOffset": 3, "labelBaseline": "top", "labelPadding": 0, "tickSize": 5, "tickColor": "#008000", "labelColor": "#22ee22", "labelFontSize": 18, "grid": true, "gridColor": "#007000", "domain": false, "labelFlush": false, "labelOverlap": false}},
  "y": {"field": "p", "type": "quantitative", "scale": {"domain": [1173, 1203], "nice": false, "zero": false},
   "axis": {"title": null, "values": [1173,1176,1179,1182,1185,1188,1191,1194,1197,1200,1203], "labelExpr": "'' + (105 + (datum.value - 1173) * 5) + '\u00a0\u00a0' + datum.value", "labelAlign": "left", "labelBaseline": "alphabetic", "labelPadding": 73, "ticks": false, "labelColor": "#ffff00", "labelFontSize": 19, "grid": true, "gridColor": "#007000", "domain": false, "labelFlush": false, "labelOverlap": false}}
 }},
{"data": {"name": "hl"}, "transform": [{"filter": "datum.d == 'dot'"}],
 "mark": {"type": "rule", "strokeDash": [2, 2], "strokeWidth": 1},
 "encoding": {
  "x": {"field": "h1", "type": "quantitative"},
  "x2": {"field": "h2"},
  "y": {"field": "p", "type": "quantitative"},
  "color": {"field": "k", "type": "nominal", "legend": null, "scale": {"domain": ["yellow","red","magenta","blue","green","dkgreen","cyan","gray","white","lav","dkred","bgreen","R","W"], "range": ["#ffff00","#ff0000","#ff00ff","#0000ff","#00e000","#008000","#00ffff","#a8a8c0","#ffffff","#c8c8f0","#c00000","#00ff00","#ff0000","#ffffff"]}}
 }},
{"data": {"name": "hl"}, "transform": [{"filter": "datum.d == 'solid'"}],
 "mark": {"type": "rule", "strokeWidth": 1},
 "encoding": {
  "x": {"field": "h1", "type": "quantitative"},
  "x2": {"field": "h2"},
  "y": {"field": "p", "type": "quantitative"},
  "color": {"field": "k", "type": "nominal", "legend": null, "scale": {"domain": ["yellow","red","magenta","blue","green","dkgreen","cyan","gray","white","lav","dkred","bgreen","R","W"], "range": ["#ffff00","#ff0000","#ff00ff","#0000ff","#00e000","#008000","#00ffff","#a8a8c0","#ffffff","#c8c8f0","#c00000","#00ff00","#ff0000","#ffffff"]}}
 }},
{"data": {"name": "lat"},
 "mark": {"type": "line", "color": "#ffff00", "strokeDash": [1.5, 1.5], "strokeWidth": 1.3, "clip": true},
 "encoding": {
  "x": {"field": "h", "type": "quantitative"},
  "y": {"field": "p", "type": "quantitative"},
  "detail": {"field": "id"}
 }},
{"data": {"name": "vl"},
 "mark": {"type": "rule", "strokeWidth": 1},
 "encoding": {
  "x": {"field": "h", "type": "quantitative"},
  "color": {"field": "k", "type": "nominal", "legend": null, "scale": {"domain": ["yellow","red","magenta","blue","green","dkgreen","cyan","gray","white","lav","dkred","bgreen","R","W"], "range": ["#ffff00","#ff0000","#ff00ff","#0000ff","#00e000","#008000","#00ffff","#a8a8c0","#ffffff","#c8c8f0","#c00000","#00ff00","#ff0000","#ffffff"]}}
 }},
{"data": {"name": "dots"},
 "mark": {"type": "square", "size": 4, "color": "#ffffff", "opacity": 1},
 "encoding": {
  "x": {"field": "h", "type": "quantitative"},
  "y": {"field": "p", "type": "quantitative"}
 }},
{"data": {"name": "cv"}, "transform": [{"filter": "datum.s == 'g1' || datum.s == 'g2'"}],
 "mark": {"type": "line", "color": "#00ff00", "strokeWidth": 1.3, "clip": true},
 "encoding": {"x": {"field": "h", "type": "quantitative"}, "y": {"field": "p", "type": "quantitative"}, "detail": {"field": "s"}}},
{"data": {"name": "cv"}, "transform": [{"filter": "datum.s == 'r1' || datum.s == 'r2'"}],
 "mark": {"type": "line", "color": "#ff0000", "strokeWidth": 1.3, "clip": true},
 "encoding": {"x": {"field": "h", "type": "quantitative"}, "y": {"field": "p", "type": "quantitative"}, "detail": {"field": "s"}}},
{"data": {"name": "cv"}, "transform": [{"filter": "datum.s == 'b'"}],
 "mark": {"type": "line", "color": "#2030ff", "strokeWidth": 1.3, "clip": true},
 "encoding": {"x": {"field": "h", "type": "quantitative"}, "y": {"field": "p", "type": "quantitative"}}},
{"data": {"name": "cv"}, "transform": [{"filter": "datum.s == 'm'"}],
 "mark": {"type": "line", "color": "#ff00ff", "strokeWidth": 1.3, "clip": true},
 "encoding": {"x": {"field": "h", "type": "quantitative"}, "y": {"field": "p", "type": "quantitative"}}},
{"data": {"name": "bars"},
 "mark": {"type": "rule", "strokeWidth": 3},
 "encoding": {
  "x": {"field": "h", "type": "quantitative"},
  "y": {"field": "lo", "type": "quantitative"},
  "y2": {"field": "hi"},
  "color": {"field": "k", "type": "nominal", "legend": null, "scale": {"domain": ["yellow","red","magenta","blue","green","dkgreen","cyan","gray","white","lav","dkred","bgreen","R","W"], "range": ["#ffff00","#ff0000","#ff00ff","#0000ff","#00e000","#008000","#00ffff","#a8a8c0","#ffffff","#c8c8f0","#c00000","#00ff00","#ff0000","#ffffff"]}}
 }},
{"data": {"name": "cv"}, "transform": [{"filter": "datum.s == 'ma'"}],
 "mark": {"type": "line", "color": "#ffff00", "strokeWidth": 1.3, "clip": true},
 "encoding": {"x": {"field": "h", "type": "quantitative"}, "y": {"field": "p", "type": "quantitative"}}},
{"data": {"name": "last"},
 "mark": {"type": "rule", "color": "#ffff00", "strokeWidth": 2},
 "encoding": {"x": {"field": "h", "type": "quantitative"}, "x2": {"field": "h2"}, "y": {"field": "p", "type": "quantitative"}}},
{"data": {"name": "tx"}, "transform": [{"filter": "datum.g == 'title'"}],
 "mark": {"type": "text", "align": "left", "baseline": "middle", "fontSize": 16.5, "font": "Liberation Sans"},
 "encoding": {"x": {"field": "h", "type": "quantitative"}, "y": {"field": "p", "type": "quantitative"}, "text": {"field": "t"},
  "color": {"field": "k", "type": "nominal", "legend": null, "scale": {"domain": ["yellow","red","magenta","blue","green","dkgreen","cyan","gray","white","lav","dkred","bgreen","R","W"], "range": ["#ffff00","#ff0000","#ff00ff","#0000ff","#00e000","#008000","#00ffff","#a8a8c0","#ffffff","#c8c8f0","#c00000","#00ff00","#ff0000","#ffffff"]}}}},
{"data": {"name": "tx"}, "transform": [{"filter": "datum.g == 'small'"}],
 "mark": {"type": "text", "align": "left", "baseline": "middle", "fontSize": 10.5, "font": "Liberation Sans"},
 "encoding": {"x": {"field": "h", "type": "quantitative"}, "y": {"field": "p", "type": "quantitative"}, "text": {"field": "t"},
  "color": {"field": "k", "type": "nominal", "legend": null, "scale": {"domain": ["yellow","red","magenta","blue","green","dkgreen","cyan","gray","white","lav","dkred","bgreen","R","W"], "range": ["#ffff00","#ff0000","#ff00ff","#0000ff","#00e000","#008000","#00ffff","#a8a8c0","#ffffff","#c8c8f0","#c00000","#00ff00","#ff0000","#ffffff"]}}}},
{"data": {"name": "tx"}, "transform": [{"filter": "datum.g == 'foot'"}],
 "mark": {"type": "text", "align": "left", "baseline": "middle", "fontSize": 16, "font": "Liberation Sans"},
 "encoding": {"x": {"field": "h", "type": "quantitative"}, "y": {"field": "p", "type": "quantitative"}, "text": {"field": "t"},
  "color": {"field": "k", "type": "nominal", "legend": null, "scale": {"domain": ["yellow","red","magenta","blue","green","dkgreen","cyan","gray","white","lav","dkred","bgreen","R","W"], "range": ["#ffff00","#ff0000","#ff00ff","#0000ff","#00e000","#008000","#00ffff","#a8a8c0","#ffffff","#c8c8f0","#c00000","#00ff00","#ff0000","#ffffff"]}}}},
{"data": {"name": "tx"}, "transform": [{"filter": "datum.g == 'date'"}],
 "mark": {"type": "text", "align": "left", "baseline": "middle", "fontSize": 19, "font": "Liberation Sans"},
 "encoding": {"x": {"field": "h", "type": "quantitative"}, "y": {"field": "p", "type": "quantitative"}, "text": {"field": "t"},
  "color": {"field": "k", "type": "nominal", "legend": null, "scale": {"domain": ["yellow","red","magenta","blue","green","dkgreen","cyan","gray","white","lav","dkred","bgreen","R","W"], "range": ["#ffff00","#ff0000","#ff00ff","#0000ff","#00e000","#008000","#00ffff","#a8a8c0","#ffffff","#c8c8f0","#c00000","#00ff00","#ff0000","#ffffff"]}}}},
{"data": {"name": "tx"}, "transform": [{"filter": "datum.g == 'bold'"}],
 "mark": {"type": "text", "align": "left", "baseline": "middle", "fontSize": 19, "fontWeight": "bold", "font": "Liberation Sans"},
 "encoding": {"x": {"field": "h", "type": "quantitative"}, "y": {"field": "p", "type": "quantitative"}, "text": {"field": "t"},
  "color": {"field": "k", "type": "nominal", "legend": null, "scale": {"domain": ["yellow","red","magenta","blue","green","dkgreen","cyan","gray","white","lav","dkred","bgreen","R","W"], "range": ["#ffff00","#ff0000","#ff00ff","#0000ff","#00e000","#008000","#00ffff","#a8a8c0","#ffffff","#c8c8f0","#c00000","#00ff00","#ff0000","#ffffff"]}}}},
{"data": {"name": "tx"}, "transform": [{"filter": "datum.g == 'tl' || datum.g == 'rlab'"}],
 "mark": {"type": "text", "align": "left", "baseline": "middle", "fontSize": 15.5, "font": "Liberation Sans"},
 "encoding": {"x": {"field": "h", "type": "quantitative"}, "y": {"field": "p", "type": "quantitative"}, "text": {"field": "t"},
  "color": {"field": "k", "type": "nominal", "legend": null, "scale": {"domain": ["yellow","red","magenta","blue","green","dkgreen","cyan","gray","white","lav","dkred","bgreen","R","W"], "range": ["#ffff00","#ff0000","#ff00ff","#0000ff","#00e000","#008000","#00ffff","#a8a8c0","#ffffff","#c8c8f0","#c00000","#00ff00","#ff0000","#ffffff"]}}}},
{"data": {"name": "tx"}, "transform": [{"filter": "datum.g == 'let'"}],
 "mark": {"type": "text", "align": "left", "baseline": "middle", "fontSize": 14, "font": "Liberation Sans"},
 "encoding": {"x": {"field": "h", "type": "quantitative"}, "y": {"field": "p", "type": "quantitative"}, "text": {"field": "t"},
  "color": {"field": "k", "type": "nominal", "legend": null, "scale": {"domain": ["yellow","red","magenta","blue","green","dkgreen","cyan","gray","white","lav","dkred","bgreen","R","W"], "range": ["#ffff00","#ff0000","#ff00ff","#0000ff","#00e000","#008000","#00ffff","#a8a8c0","#ffffff","#c8c8f0","#c00000","#00ff00","#ff0000","#ffffff"]}}}}
]
}
